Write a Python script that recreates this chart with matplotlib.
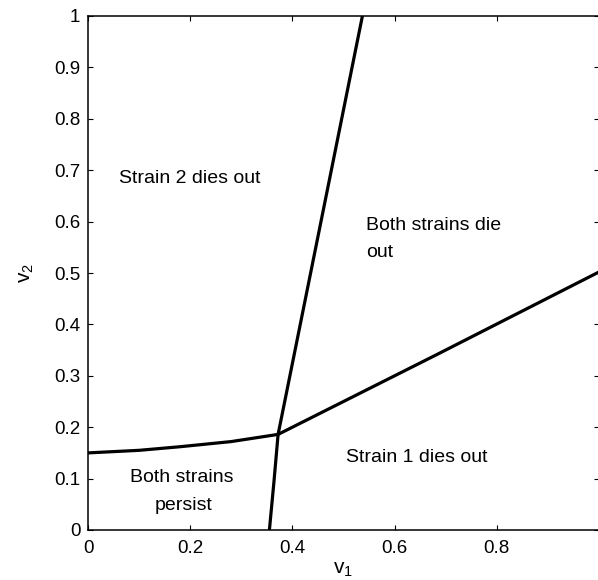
import numpy as np
import matplotlib
matplotlib.use("Agg")
import matplotlib.pyplot as plt

plt.rcParams['font.family'] = ['Liberation Sans', 'DejaVu Sans']
plt.rcParams['mathtext.fontset'] = 'custom'
plt.rcParams['mathtext.rm'] = 'Liberation Sans'
plt.rcParams['mathtext.it'] = 'Liberation Sans'

# boundary curves (v1, v2)
left_v1 = [0.0, 0.1, 0.18, 0.28, 0.372]
left_v2 = [0.150, 0.155, 0.162, 0.172, 0.186]

steep_v1 = [0.355, 0.364, 0.372, 0.537]
steep_v2 = [0.0, 0.095, 0.186, 1.0]

right_v1 = [0.372, 0.684, 1.0]
right_v2 = [0.186, 0.342, 0.502]

xticks = [0, 0.2, 0.4, 0.6, 0.8, 1]
yticks = [0, 0.1, 0.2, 0.3, 0.4, 0.5, 0.6, 0.7, 0.8, 0.9, 1]

fig = plt.figure(figsize=(5.98, 5.80), dpi=100)
ax = fig.add_axes([88 / 598, 50 / 580, 511 / 598, 514 / 580])

for xs, ys in [(left_v1, left_v2), (steep_v1, steep_v2), (right_v1, right_v2)]:
    ax.plot(xs, ys, color='black', lw=2.3, solid_capstyle='butt')

ax.set_xlim(0, 1)
ax.set_ylim(0, 1)
ax.set_xticks(xticks)
ax.set_yticks(yticks)
# the label of the last x tick falls off the right edge of the picture
ax.set_xticklabels([f"{t:g}" for t in xticks[:-1]] + [""])
ax.set_yticklabels([f"{t:g}" for t in yticks])
ax.tick_params(direction='in', length=3.6, width=0.8, labelsize=13.5,
               top=True, right=True)
ax.tick_params(axis='x', pad=7.5)
ax.tick_params(axis='y', pad=5.5)
for s in ax.spines.values():
    s.set_linewidth(1.1)

fs = 14
ax.text(0.061, 0.6745, "Strain 2 dies out", fontsize=fs, ha='left', va='baseline')
ax.text(0.545, 0.584, "Both strains die", fontsize=fs, ha='left', va='baseline')
ax.text(0.545, 0.532, "out", fontsize=fs, ha='left', va='baseline')
ax.text(0.505, 0.133, "Strain 1 dies out", fontsize=fs, ha='left', va='baseline')
ax.text(0.184, 0.094, "Both strains", fontsize=fs, ha='center', va='baseline')
ax.text(0.188, 0.039, "persist", fontsize=fs, ha='center', va='baseline')

ax.set_xlabel(r"$\mathregular{v_1}$", fontsize=15, labelpad=2)
ax.set_ylabel(r"$\mathregular{v_2}$", fontsize=15, labelpad=13)

fig.savefig("out.png", dpi=100)
